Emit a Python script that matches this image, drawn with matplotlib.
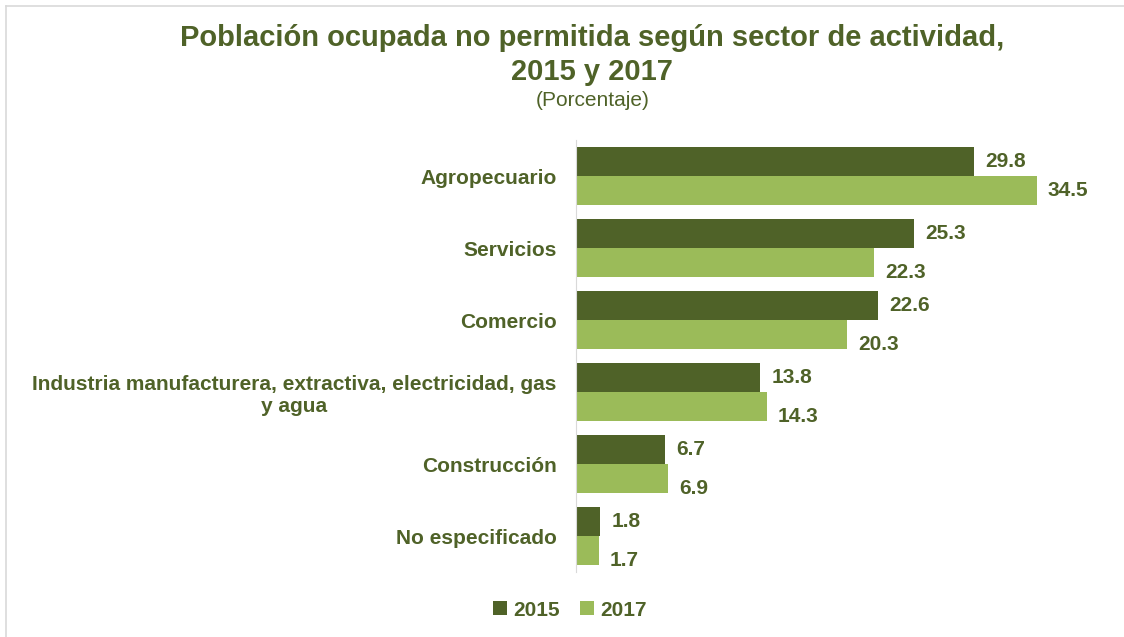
import numpy as np
import matplotlib.pyplot as plt
from matplotlib.lines import Line2D

plt.rcParams['font.family'] = ['Liberation Sans', 'DejaVu Sans']

# ------------ data
categorias = ["Agropecuario", "Servicios", "Comercio",
              "Industria manufacturera, extractiva, electricidad, gas\ny agua",
              "Construcción", "No especificado"]
v2015 = [29.8, 25.3, 22.6, 13.8, 6.7, 1.8]
v2017 = [34.5, 22.3, 20.3, 14.3, 6.9, 1.7]

c2015 = "#4F6228"
c2017 = "#9BBB59"
txt = "#4F6228"

fig = plt.figure(figsize=(11.24, 6.37), dpi=100)
ax = fig.add_axes([576 / 1124, 1 - 572 / 637, 534 / 1124, 432 / 637])

y = np.arange(len(categorias))
h = 0.4
ax.barh(y - h / 2, v2015, height=h, color=c2015, label="2015")
ax.barh(y + h / 2, v2017, height=h, color=c2017, label="2017")

ax.set_xlim(0, 40)
ax.set_ylim(len(categorias) - 0.5, -0.5)
ax.set_yticks(y)
ax.set_yticklabels(categorias, fontsize=15, fontweight="bold", color=txt,
                   multialignment="center")
ax.tick_params(axis="y", length=0, pad=14)
ax.set_xticks([])
for s in ["top", "right", "bottom"]:
    ax.spines[s].set_visible(False)
ax.spines["left"].set_color("#D9D9D9")

# value labels
for i, v in enumerate(v2015):
    ax.annotate(f"{v:.1f}", (v, i - h / 2), xytext=(8, 0), textcoords="offset points",
                va="center", ha="left", fontsize=15, fontweight="bold", color=txt)
for i, v in enumerate(v2017):
    dy = 0 if i == 0 else -7
    ax.annotate(f"{v:.1f}", (v, i + h / 2), xytext=(8, dy), textcoords="offset points",
                va="center", ha="left", fontsize=15, fontweight="bold", color=txt)

fig.text(0.527, 1 - 38 / 637, "Población ocupada no permitida según sector de actividad,",
         ha="center", va="center", fontsize=21, fontweight="bold", color=txt)
fig.text(0.527, 1 - 72 / 637, "2015 y 2017",
         ha="center", va="center", fontsize=21, fontweight="bold", color=txt)
fig.text(0.527, 1 - 101 / 637, "(Porcentaje)",
         ha="center", va="center", fontsize=15, color=txt)

leg = fig.legend(loc="center", bbox_to_anchor=(570 / 1124, 1 - 610 / 637), ncol=2,
                 frameon=False, handlelength=0.65, handleheight=0.65, handletextpad=0.3,
                 columnspacing=1.0, prop={"size": 15, "weight": "bold"})
for t in leg.get_texts():
    t.set_color(txt)

# partial frame (left and top)
fig.add_artist(Line2D([6 / 1124, 6 / 1124], [0, 1 - 6 / 637], color="#D9D9D9", lw=1.2))
fig.add_artist(Line2D([6 / 1124, 1], [1 - 6 / 637, 1 - 6 / 637], color="#D9D9D9", lw=1.2))

fig.savefig("out.png", dpi=100)
